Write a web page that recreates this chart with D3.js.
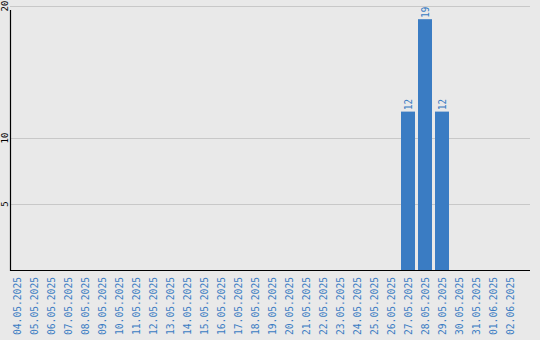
<!DOCTYPE html>
<html>
<head>
<meta charset="utf-8">
<script src="https://cdn.jsdelivr.net/npm/d3@7/dist/d3.min.js"></script>
<style>
  html, body { margin: 0; padding: 0; background: #e9e9e9; }
  svg { display: block; }
</style>
</head>
<body>
<svg id="chart" width="540" height="340"></svg>
<script>
// Daily counts, 04.05.2025 – 02.06.2025
const dates = [
  "04.05.2025", "05.05.2025", "06.05.2025", "07.05.2025", "08.05.2025",
  "09.05.2025", "10.05.2025", "11.05.2025", "12.05.2025", "13.05.2025",
  "14.05.2025", "15.05.2025", "16.05.2025", "17.05.2025", "18.05.2025",
  "19.05.2025", "20.05.2025", "21.05.2025", "22.05.2025", "23.05.2025",
  "24.05.2025", "25.05.2025", "26.05.2025", "27.05.2025", "28.05.2025",
  "29.05.2025", "30.05.2025", "31.05.2025", "01.06.2025", "02.06.2025"
];
const counts = [
  0, 0, 0, 0, 0, 0, 0, 0, 0, 0,
  0, 0, 0, 0, 0, 0, 0, 0, 0, 0,
  0, 0, 0, 12, 19, 12, 0, 0, 0, 0
];
const yTicks = [5, 10, 20];

(function () {
  const svg = d3.select("#chart");
  const W = 540, H = 340;
  const plotL = 10, plotR = 530, plotT = 6, plotB = 270;
  const blue = "#3a7cc3";
  const mono = "'DejaVu Sans Mono', monospace";

  svg.append("rect").attr("width", W).attr("height", H).attr("fill", "#e9e9e9");

  const x = d3.scaleBand().domain(dates).range([plotL, plotL + dates.length * 17]).padding(0);
  const y = d3.scaleLinear().domain([0, 20]).range([plotB, plotT]);
  const barW = x.bandwidth() - 3;

  // horizontal grid lines
  svg.append("g").selectAll("line").data(yTicks).join("line")
    .attr("x1", plotL).attr("x2", plotR)
    .attr("y1", d => Math.round(y(d)) + 0.5).attr("y2", d => Math.round(y(d)) + 0.5)
    .attr("stroke", "#c8c8c8").attr("stroke-width", 1);

  // y tick labels, rotated
  svg.append("g").selectAll("text").data(yTicks).join("text")
    .attr("transform", d => `translate(7.5,${y(d)}) rotate(-90)`)
    .attr("text-anchor", "middle")
    .attr("font-family", mono).attr("font-size", 9).attr("fill", "#000")
    .text(d => d);

  // bars
  const nz = dates.map((d, i) => ({ d, v: counts[i] })).filter(o => o.v > 0);
  svg.append("g").selectAll("rect").data(nz).join("rect")
    .attr("x", o => x(o.d)).attr("width", barW)
    .attr("y", o => y(o.v)).attr("height", o => y(0) - y(o.v))
    .attr("fill", blue);

  // value labels above bars
  svg.append("g").selectAll("text").data(nz).join("text")
    .attr("transform", o => `translate(${x(o.d) + barW / 2 + 4},${y(o.v) - 1.5}) rotate(-90)`)
    .attr("text-anchor", "start")
    .attr("font-family", mono).attr("font-size", 11).attr("fill", blue)
    .attr("textLength", 11).attr("lengthAdjust", "spacingAndGlyphs")
    .text(o => o.v);

  // axis lines
  svg.append("line").attr("x1", plotL + 0.5).attr("x2", plotL + 0.5)
    .attr("y1", 10).attr("y2", plotB + 1).attr("stroke", "#000").attr("stroke-width", 1.2);
  svg.append("line").attr("x1", plotL).attr("x2", plotR)
    .attr("y1", plotB + 0.5).attr("y2", plotB + 0.5).attr("stroke", "#000").attr("stroke-width", 1.2);

  // x category labels, vertical
  svg.append("g").selectAll("text").data(dates).join("text")
    .attr("transform", d => `translate(${x(d) + barW / 2 + 4},277) rotate(-90)`)
    .attr("text-anchor", "end")
    .attr("font-family", mono).attr("font-size", 11).attr("fill", blue)
    .attr("textLength", 58).attr("lengthAdjust", "spacingAndGlyphs")
    .text(d => d);
})();
</script>
</body>
</html>
